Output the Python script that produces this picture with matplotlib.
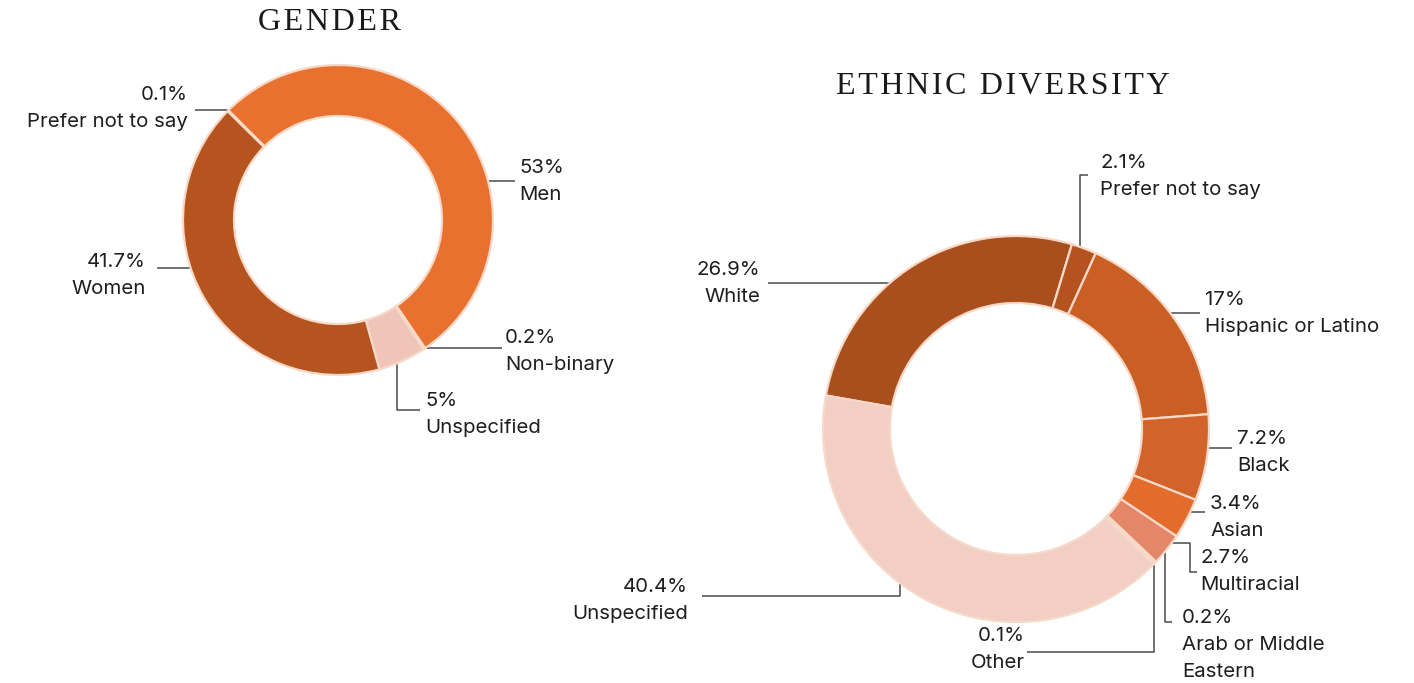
import matplotlib.pyplot as plt
import numpy as np

plt.rcParams['font.family'] = ['Inter', 'DejaVu Sans']

W, H = 1414, 683

# data
gender_names = ["Men", "Non-binary", "Unspecified", "Women", "Prefer not to say"]
gender_values = [53, 0.2, 5, 41.7, 0.1]
gender_pct = ["53%", "0.2%", "5%", "41.7%", "0.1%"]
gender_colors = ["#E8712F", "#F1CFC4", "#EFC4B9", "#B5541E", "#C9642C"]

ethnic_names = ["White", "Prefer not to say", "Hispanic or Latino", "Black", "Asian",
                "Multiracial", "Arab or Middle\nEastern", "Other", "Unspecified"]
ethnic_values = [26.9, 2.1, 17, 7.2, 3.4, 2.7, 0.2, 0.1, 40.4]
ethnic_pct = ["26.9%", "2.1%", "17%", "7.2%", "3.4%", "2.7%", "0.2%", "0.1%", "40.4%"]
ethnic_colors = ["#A94F1D", "#B4531F", "#C95F24", "#D2632A", "#E36B2B",
                 "#E48769", "#EBA892", "#F0C2B6", "#F2CEC5"]

# layout (pixel coordinates, y from top)
# text: (x, y of pct line, ha)
# leader: ('h', y) or ('v', x) first segment meeting the ring, then bend points
gender_layout = [
    ((519, 168, 'left'), ('h', 181), [(515, 181)]),
    ((505, 338, 'left'), ('h', 348), [(502, 348)]),
    ((425, 401, 'left'), ('v', 397), [(397, 410), (420, 410)]),
    ((146, 262, 'right'), ('h', 268), [(157, 268)]),
    ((188, 95, 'right'), ('h', 110), [(195, 110)]),
]
ethnic_layout = [
    ((760, 270, 'right'), ('h', 283), [(768, 283)]),
    ((1100, 163, 'left'), ('v', 1080), [(1080, 175), (1088, 175)]),
    ((1205, 300, 'left'), ('h', 313), [(1200, 313)]),
    ((1237, 439, 'left'), ('h', 448), [(1232, 448)]),
    ((1210, 504, 'left'), ('h', 512), [(1205, 512)]),
    ((1200, 558, 'left'), ('h', 543), [(1190, 543), (1190, 572), (1197, 572)]),
    ((1182, 618, 'left'), ('h', 553), [(1165, 553), (1165, 622), (1172, 622)]),
    ((1025, 636, 'right'), ('v', 1154), [(1154, 652), (1027, 652)]),
    ((688, 587, 'right'), ('v', 900), [(900, 596), (702, 596)]),
]


def py(y):
    return H - y


def spaced(s):
    return '\u200a'.join(s)


fig = plt.figure(figsize=(W / 100, H / 100), dpi=100)
ax = fig.add_axes([0, 0, 1, 1])


def donut(values, colors, pcts, names, layout, cx, cy, r, width, start, title, tx, ty):
    wedges, _ = ax.pie(values, colors=colors, startangle=start, counterclock=False,
                       center=(cx, py(cy)), radius=r, frame=True,
                       wedgeprops=dict(width=width, edgecolor='#F6D9C8', linewidth=1.6))
    for w in wedges:
        w.set_zorder(3)
    rl = r - 3
    for (txt, lead, bends), pct, name in zip(layout, pcts, names):
        x0, y0, ha = txt
        # start point where the first segment meets the ring
        kind, v = lead
        if kind == 'h':
            dy = v - cy
            dx = np.sqrt(max(rl ** 2 - dy ** 2, 0))
            sx = cx + dx if bends[0][0] > cx else cx - dx
            pts = [(sx, v)] + bends
        else:
            dx = v - cx
            dy = np.sqrt(max(rl ** 2 - dx ** 2, 0))
            sy = cy + dy if bends[0][1] > cy else cy - dy
            pts = [(v, sy)] + bends
        xs = [p[0] for p in pts]
        ys = [py(p[1]) for p in pts]
        ax.plot(xs, ys, color='#4a4a4a', lw=1.1, zorder=2, solid_capstyle='butt')
        ax.text(x0, py(y0), pct, ha=ha, va='center', fontsize=14.7, color='#1e1e1e')
        for i, line in enumerate(name.split('\n')):
            ax.text(x0, py(y0 + 27 + 27 * i), line, ha=ha, va='center',
                    fontsize=14.7, color='#1e1e1e')
    ax.text(tx, py(ty), spaced(title), ha='center', va='center', fontsize=23,
            family=['Liberation Serif', 'DejaVu Serif'], color='#1a1a1a')


donut(gender_values, gender_colors, gender_pct, gender_names, gender_layout,
      338, 220, 155, 51, 135, "GENDER", 330, 22)
donut(ethnic_values, ethnic_colors, ethnic_pct, ethnic_names, ethnic_layout,
      1016, 429, 193, 67, 170, "ETHNIC DIVERSITY", 1003, 87)

ax.set_xlim(0, W)
ax.set_ylim(0, H)
ax.set_aspect('equal')
ax.axis('off')

fig.savefig('out.png', dpi=100)
